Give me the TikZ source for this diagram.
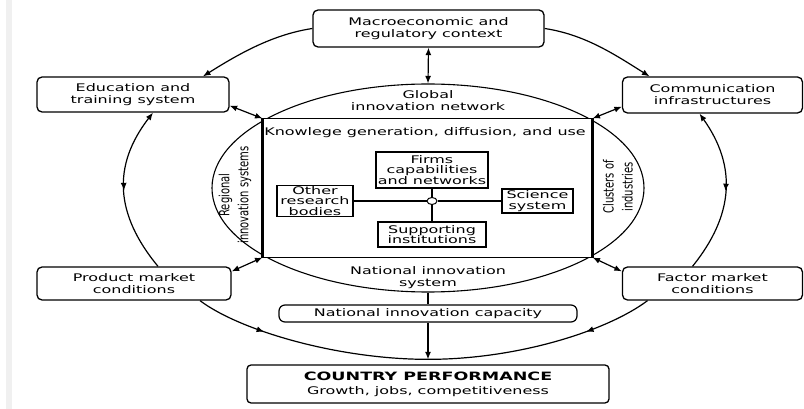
\documentclass[tikz,border=0pt]{standalone}
\usepackage{fontspec}
\usepackage{graphicx}
\setmainfont[FakeStretch=1.52]{DejaVu Sans}
\newfontfamily\rotfont{DejaVu Sans}
\usetikzlibrary{shapes.geometric,arrows.meta,decorations.markings}
\begin{document}
\begin{tikzpicture}[x=1pt,y=-1pt,
  >={Latex[length=7.5pt,width=6pt]},
  rbox/.style={draw, rounded corners=5pt, line width=1.3pt, inner sep=0pt, align=center, fill=white,
               font=\fontsize{10.5}{12}\selectfont},
  sbox/.style={draw, line width=1.2pt, inner sep=0pt, align=center, fill=white,
               font=\fontsize{10.5}{10.5}\selectfont},
  lab/.style={align=center, inner sep=0pt, font=\fontsize{10.5}{12}\selectfont},
  rlab/.style={rotate=90, align=center, inner sep=0pt, font=\rotfont\fontsize{10}{19}\selectfont},
  conn/.style={line width=1.2pt},
  midarrow/.style={postaction={decorate}, decoration={markings,
      mark=at position #1 with {\arrow{Latex[length=7.5pt,width=6pt]}}}}
]
\useasboundingbox (0,0) rectangle (804,409);
\fill[gray!12] (6,0) rectangle (12,409);

% central ellipse and knowledge rectangle
\node[draw, ellipse, line width=1.1pt, minimum width=432pt, minimum height=208pt, inner sep=0pt] (ell) at (428,188) {};
\node[draw, fill=white, line width=1pt, minimum width=329pt, minimum height=138pt, inner sep=0pt] (kn) at (427.5,188) {};
\draw[line width=2.2pt] (kn.north west) -- (kn.south west);
\draw[line width=2.2pt] (kn.north east) -- (kn.south east);

% outer boxes
\node[rbox, minimum width=231pt, minimum height=37pt] (mac) at (428.5,28.5) {Macroeconomic and\\regulatory context};
\node[rbox, minimum width=192pt, minimum height=35pt] (edu) at (133,94.5) {Education and\\training system};
\node[rbox, minimum width=180pt, minimum height=36pt] (com) at (712.5,95) {Communication\\infrastructures};
\node[rbox, minimum width=194pt, minimum height=33pt] (prod) at (134,283.5) {Product market\\conditions};
\node[rbox, minimum width=180pt, minimum height=33pt] (fac) at (712.5,283.5) {Factor market\\conditions};
\node[rbox, rounded corners=4pt, minimum width=362pt, minimum height=38pt, font=\fontsize{10.5}{14}\selectfont] (perf) at (428,384)
  {{\bfseries\fontsize{11.5}{14}\selectfont COUNTRY PERFORMANCE}\\Growth, jobs, competitiveness};
\node[rbox, rounded corners=6pt, line width=1.2pt, minimum width=298pt, minimum height=17pt] (cap) at (428,313.5) {National innovation capacity};

% labels
\node[lab] (glob) at (428,101) {Global\\innovation network};
\node[lab] (know) at (425,133) {Knowlege generation, diffusion, and use};
\node[lab] (nat) at (428,277.5) {National innovation\\system};
\node[rlab] (reg) at (235,195) {\scalebox{1}[1.4]{Regional}\\\scalebox{1}[1.4]{innovation systems}};
\node[rlab] (clu) at (618,187) {\scalebox{1}[1.4]{Clusters of}\\\scalebox{1}[1.4]{industries}};

% inner boxes
\node[sbox, minimum width=112pt, minimum height=36pt] (firms) at (432,170) {Firms\\capabilities\\and networks};
\node[sbox, minimum width=76pt, minimum height=31pt] (other) at (315,201) {Other\\research\\bodies};
\node[sbox, minimum width=71pt, minimum height=24pt] (sci) at (537.5,201) {Science\\system};
\node[sbox, minimum width=108pt, minimum height=25pt] (sup) at (432,234.5) {Supporting\\institutions};
\node[draw, ellipse, line width=1pt, minimum width=10pt, minimum height=7pt, inner sep=0pt, fill=white] (hub) at (432,201) {};
\draw[conn] (other) -- (hub) -- (sci);
\draw[conn] (firms) -- (hub) -- (sup);

% connectors
\coordinate (meet) at ([yshift=5pt]perf.north);
\draw[conn,<->] (mac.south) -- (ell.north);
\draw[conn] (ell.south) -- (cap.north);
\draw[conn,->] (cap.south) -- (meet);

\draw[conn,<->] ([yshift=7pt]edu.south east) -- (kn.north west);
\draw[conn,<->] ([yshift=7pt]com.south west) -- (kn.north east);
\draw[conn,<->] ([yshift=-5pt]prod.north east) -- (kn.south west);
\draw[conn,<->] ([yshift=-5pt]fac.north west) -- (kn.south east);

\draw[conn,->] (mac.west) .. controls +(-40,6) and +(35,-22) .. ([xshift=70pt]edu.north);
\draw[conn,->] (mac.east) .. controls +(40,6) and +(-35,-22) .. ([xshift=-63pt]com.north);

\draw[conn,<-,midarrow=0.5] ([xshift=20pt]edu.south) .. controls +(-41,53) and +(-43,-52) .. ([xshift=24pt]prod.north);
\draw[conn,<-,midarrow=0.5] ([xshift=-13pt]com.south) .. controls +(37,52) and +(42,-52) .. ([xshift=-20pt]fac.north);

\draw[conn,midarrow=0.3] ([xshift=66pt]prod.south) .. controls +(40,30) and +(-90,0) .. (meet);
\draw[conn,midarrow=0.3] ([xshift=-65pt]fac.south) .. controls +(-40,30) and +(90,0) .. (meet);
\end{tikzpicture}
\end{document}
